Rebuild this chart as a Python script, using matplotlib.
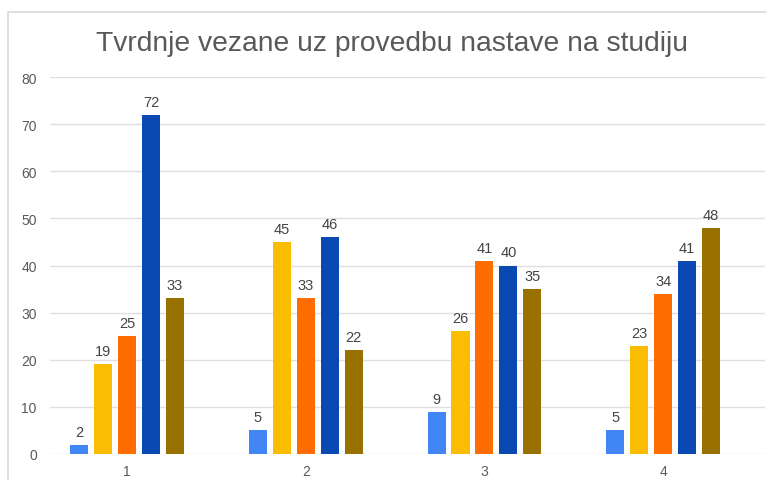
import numpy as np
import matplotlib.pyplot as plt
from matplotlib.patches import Rectangle

plt.rcParams['font.family'] = ['Liberation Sans', 'DejaVu Sans']

# data
groups = ["1", "2", "3", "4"]
s1 = [2, 5, 9, 5]
s2 = [19, 45, 26, 23]
s3 = [25, 33, 41, 34]
s4 = [72, 46, 40, 41]
s5 = [33, 22, 35, 48]
series = [s1, s2, s3, s4, s5]
colors = ["#4285f4", "#fbbc04", "#ff6d01", "#0b49b2", "#997100"]

fig = plt.figure(figsize=(7.66, 4.81), dpi=100)
# light frame around the chart (cropped on right / bottom)
fig.patches.append(Rectangle((8 / 766, -0.1), 1.2, (481 - 13) / 481 + 0.1,
                             transform=fig.transFigure, fill=False,
                             edgecolor="#d9d9d9", lw=1.2))

ax = fig.add_axes([50 / 766, 26 / 481, 715 / 766, 377 / 481])

x = np.arange(1, len(groups) + 1)
pitch = 0.134
width = 0.101
for i, (vals, c) in enumerate(zip(series, colors)):
    xs = x + (i - 2) * pitch
    ax.bar(xs, vals, width=width, color=c, zorder=3)
    for xi, v in zip(xs, vals):
        ax.annotate(str(v), (xi, v), xytext=(0, 6.5), textcoords="offset points",
                    ha="center", va="baseline", fontsize=10.5, color="#444444")

ax.set_xlim(0.569, 4.57)
ax.set_ylim(0, 80)
ax.set_yticks(range(0, 81, 10))
ax.set_xticks(x)
ax.set_xticklabels(groups)
ax.tick_params(length=0, labelsize=10, colors="#595959")
ax.tick_params(axis="y", pad=9.5)
ax.tick_params(axis="x", pad=7)
ax.grid(axis="y", color="#e0e0e0", lw=1, zorder=0)
for sp in ax.spines.values():
    sp.set_visible(False)

fig.text(392 / 766, 1 - 44 / 481, "Tvrdnje vezane uz provedbu nastave na studiju",
         ha="center", va="center", fontsize=20.3, color="#595959")

fig.savefig("out.png", dpi=100)
